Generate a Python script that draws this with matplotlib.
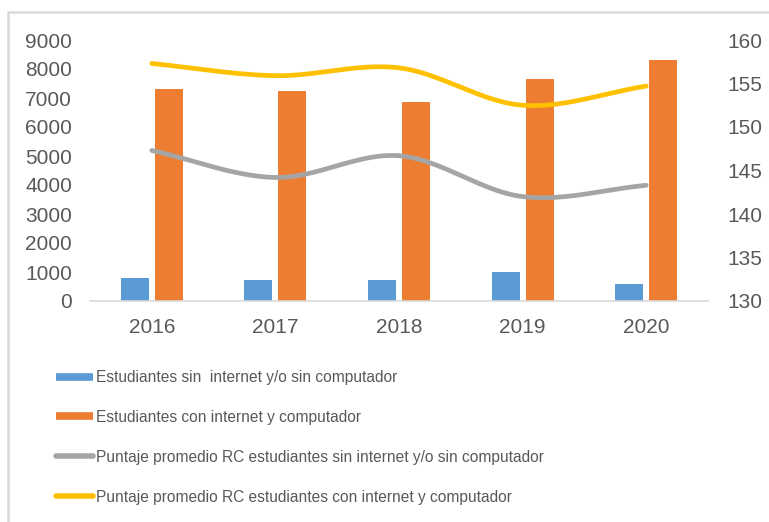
import os
import numpy as np
import matplotlib
matplotlib.use("Agg")
import matplotlib.pyplot as plt
from matplotlib import font_manager
from matplotlib.patches import Rectangle
from matplotlib.lines import Line2D

# data
years = ["2016", "2017", "2018", "2019", "2020"]
sin_internet = [800, 740, 740, 1010, 590]
con_internet = [7300, 7250, 6850, 7670, 8300]
puntaje_sin = [147.3, 144.2, 146.7, 142.0, 143.3]
puntaje_con = [157.3, 155.9, 156.8, 152.5, 154.7]

labels = ["Estudiantes sin  internet y/o sin computador",
          "Estudiantes con internet y computador",
          "Puntaje promedio RC estudiantes sin internet y/o sin computador",
          "Puntaje promedio RC estudiantes con internet y computador"]

blue = "#5b9bd5"
orange = "#ed7d31"
gray = "#a5a5a5"
yellow = "#ffc000"
txt = "#595959"

plt.rcParams["font.family"] = ["Liberation Sans", "DejaVu Sans"]

# narrow face for the legend if one is there (Arial Narrow look)
wanted = {"liberationsansnarrow-regular.ttf": 13.5, "notosans-condensed.ttf": 14}
found = {os.path.basename(f.fname).lower(): f.fname for f in font_manager.fontManager.ttflist}
leg_prop = font_manager.FontProperties(family=["Liberation Sans", "DejaVu Sans"], size=11.2)
for key, sz in wanted.items():
    if key in found:
        leg_prop = font_manager.FontProperties(fname=found[key], size=sz)
        break


def smooth(xs, ys, n=40):
    # catmull-rom like excel smoothed lines
    xs = np.asarray(xs, float)
    ys = np.asarray(ys, float)
    px = np.concatenate([[2 * xs[0] - xs[1]], xs, [2 * xs[-1] - xs[-2]]])
    py = np.concatenate([[2 * ys[0] - ys[1]], ys, [2 * ys[-1] - ys[-2]]])
    outx, outy = [], []
    for i in range(1, len(px) - 2):
        t = np.linspace(0, 1, n)
        for arr, out in ((px, outx), (py, outy)):
            p0, p1, p2, p3 = arr[i - 1], arr[i], arr[i + 1], arr[i + 2]
            out.extend(0.5 * ((2 * p1) + (-p0 + p2) * t + (2 * p0 - 5 * p1 + 4 * p2 - p3) * t ** 2
                              + (-p0 + 3 * p1 - 3 * p2 + p3) * t ** 3))
    return np.array(outx), np.array(outy)


fig = plt.figure(figsize=(7.69, 5.22), dpi=100)
ax = fig.add_axes([90 / 769, 1 - 301 / 522, 618 / 769, 261 / 522])
ax2 = ax.twinx()

x = np.arange(len(years))
w = 0.227
off = 0.137
ax.bar(x - off, sin_internet, w, color=blue, label=labels[0], zorder=2)
ax.bar(x + off, con_internet, w, color=orange, label=labels[1], zorder=2)

sx, sy = smooth(x, puntaje_sin)
ax2.plot(sx, sy, color=gray, lw=3.4, solid_capstyle="round", label=labels[2])
sx, sy = smooth(x, puntaje_con)
ax2.plot(sx, sy, color=yellow, lw=3.4, solid_capstyle="round", label=labels[3])

ax.set_xlim(-0.5, 4.5)
ax.set_ylim(0, 9000)
ax.set_yticks(range(0, 9001, 1000))
ax2.set_ylim(130, 160)
ax2.set_yticks(range(130, 161, 5))
ax.set_xticks(x)
ax.set_xticklabels(years)

for a in (ax, ax2):
    for s in a.spines.values():
        s.set_visible(False)
    a.tick_params(length=0, labelsize=15, labelcolor=txt)
ax.spines["bottom"].set_visible(True)
ax.spines["bottom"].set_color("#d9d9d9")
ax.spines["bottom"].set_linewidth(1.2)
ax.tick_params(axis="y", pad=13)
ax.tick_params(axis="x", pad=12)
ax2.tick_params(axis="y", pad=14)

# legend
handles = [Line2D([], [], color=blue, lw=5.5, solid_capstyle="butt"),
           Line2D([], [], color=orange, lw=5.5, solid_capstyle="butt"),
           Line2D([], [], color=gray, lw=4, solid_capstyle="round"),
           Line2D([], [], color=yellow, lw=4, solid_capstyle="round")]
leg = fig.legend(handles, labels, loc="upper left", bbox_to_anchor=(42 / 769, 1 - 356 / 522),
                 frameon=False, handlelength=2.35, handletextpad=0.25, labelspacing=1.6,
                 prop=leg_prop, labelcolor=txt)

# outer frame, cut off at right and bottom
fig.patches.append(Rectangle((8 / 769, -0.1), 1.2, 1 - 12 / 522 + 0.1, transform=fig.transFigure,
                             fill=False, edgecolor="#d9d9d9", lw=1.8))

fig.savefig("out.png", dpi=100)
